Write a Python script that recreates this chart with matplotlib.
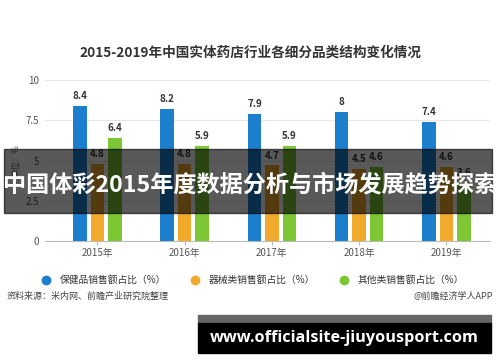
import matplotlib
matplotlib.use("Agg")
import matplotlib.pyplot as plt
from matplotlib.patches import Rectangle
import numpy as np

plt.rcParams['font.family'] = ['Noto Sans CJK SC', 'DejaVu Sans']

years = ['2015年', '2016年', '2017年', '2018年', '2019年']
health = [8.4, 8.2, 7.9, 8, 7.4]
device = [4.8, 4.8, 4.7, 4.5, 4.6]
other = [6.4, 5.9, 5.9, 4.6, 3.6]
names = ['保健品销售额占比（%）', '器械类销售额占比（%）', '其他类销售额占比（%）']
colors = ['#1b7fce', '#f2aa2c', '#7dc634']

fig = plt.figure(figsize=(5, 3.62), dpi=100)
ax = fig.add_axes([0.09, 0.334, 0.89, 0.445])

x = np.arange(len(years))
w = 0.155
for k, (vals, c) in enumerate(zip([health, device, other], colors)):
    off = (k - 1) * 0.2
    bars = ax.bar(x + off, vals, w, color=c, zorder=3)
    for b, v in zip(bars, vals):
        ax.text(b.get_x() + b.get_width() / 2, v + 0.3, f'{v:g}',
                ha='center', va='bottom', fontsize=7, fontweight='bold',
                color='#333333')

ax.set_xlim(-0.6, 4.5)
ax.set_ylim(0, 10)
ax.set_yticks([0, 2.5, 5, 7.5, 10])
ax.set_yticklabels(['0', '2.5', '5', '7.5', '10'])
ax.set_xticks(x)
ax.set_xticklabels(years)
ax.tick_params(axis='y', length=0, labelsize=7, labelcolor='#555555', pad=4)
ax.tick_params(axis='x', length=3, color='#bbbbbb', labelsize=7,
               labelcolor='#555555', pad=2)
ax.grid(axis='y', color='#e6e6e6', linewidth=0.8, zorder=0)
for s in ['top', 'right', 'left']:
    ax.spines[s].set_visible(False)
ax.spines['bottom'].set_color('#bbbbbb')
ax.set_ylabel('单位：%', fontsize=6, color='#666666', labelpad=4)

handles = [plt.Line2D([], [], marker='o', linestyle='', markersize=6,
                      color=c) for c in colors]
fig.legend(handles, names, loc='center', bbox_to_anchor=(0.5, 1 - 280 / 362),
           ncol=3, frameon=False, fontsize=7, handletextpad=0.4,
           columnspacing=2.0, labelcolor='#333333')

fig.text(0.5, 1 - 53 / 362, '2015-2019年中国实体药店行业各细分品类结构变化情况',
         ha='center', va='center', fontsize=9.8, fontweight='bold',
         color='#333333')
fig.text(7 / 500, 1 - 296 / 362, '资料来源：米内网、前瞻产业研究院整理',
         ha='left', va='center', fontsize=6.5, color='#444444')
fig.text(493 / 500, 1 - 296 / 362, '@前瞻经济学人APP',
         ha='right', va='center', fontsize=6.5, color='#444444')

# dark banner overlay
fig.patches.append(Rectangle((4 / 500, 1 - 213 / 362), 488 / 500, 64 / 362,
                             transform=fig.transFigure, color='black',
                             alpha=0.65, zorder=10))
fig.text(250 / 500, 1 - 185 / 362, '中国体彩2015年度数据分析与市场发展趋势探索',
         ha='center', va='center', fontsize=16.7, fontweight='bold',
         color='white', zorder=11)

# bottom site bar
fig.patches.append(Rectangle((198 / 500, 1 - 323 / 362), 293 / 500, 8 / 362,
                             transform=fig.transFigure, color='#666666',
                             zorder=10))
fig.patches.append(Rectangle((198 / 500, 1 - 353 / 362), 293 / 500, 30 / 362,
                             transform=fig.transFigure, color='black',
                             zorder=10))
fig.text(344 / 500, 1 - 338 / 362, 'www.officialsite-jiuyousport.com',
         ha='center', va='center', fontsize=11.7, fontweight='bold',
         color='white', family='Open Sans', zorder=11)

fig.savefig('out.png', dpi=100)
